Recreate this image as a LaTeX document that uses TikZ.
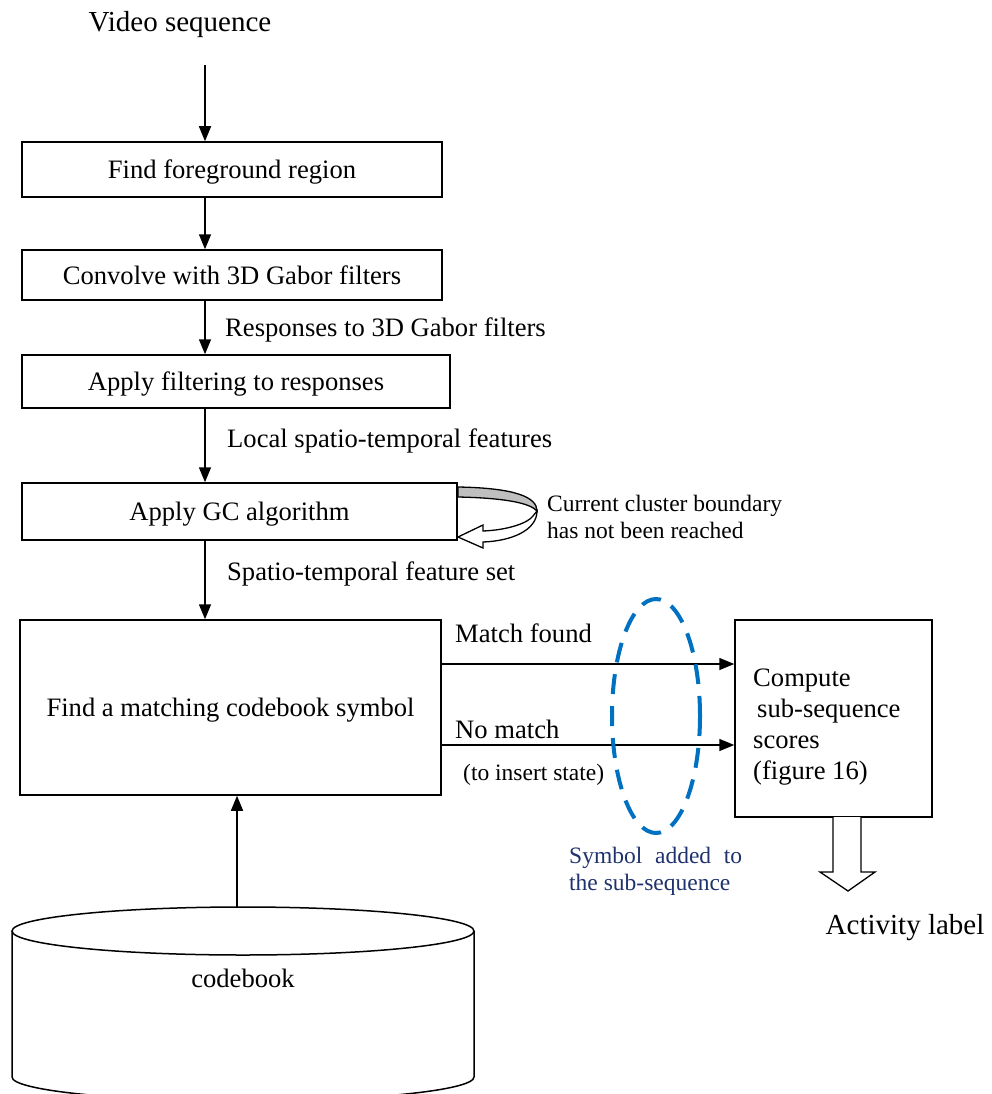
\documentclass[tikz,border=0pt]{standalone}
\usepackage{fontspec}
\setmainfont{Liberation Serif}
\usetikzlibrary{arrows.meta}
\definecolor{ellblue}{RGB}{0,112,192}
\definecolor{navytext}{RGB}{31,50,110}
\begin{document}
\begin{tikzpicture}[x=1pt,y=-1pt,
  box/.style={draw,line width=1.5pt,inner sep=0pt,text depth=0pt,font=\fontsize{26.6}{31}\selectfont},
  arr/.style={line width=1.5pt,-{Triangle[length=15pt,width=12pt]}},
  lbl/.style={anchor=west,inner sep=0pt,font=\fontsize{26.6}{31}\selectfont},
  small/.style={inner sep=0pt,font=\fontsize{23.5}{27}\selectfont}]
\useasboundingbox (0,0) rectangle (992,1094);
% title
\node[inner sep=0pt,font=\fontsize{29}{34}\selectfont] (vs) at (180,25) {Video sequence};
\coordinate (vsa) at (205,65);
\coordinate (ax) at (205,0);
% boxes
\node[box,minimum width=420pt,minimum height=55pt] (b1) at (232,169.5) {Find foreground region};
\node[box,minimum width=420pt,minimum height=50pt] (b2) at (232,275) {Convolve with 3D Gabor filters};
\node[box,minimum width=428pt,minimum height=53pt] (b3) at (236,381.5) {Apply filtering to responses};
\node[box,minimum width=435pt,minimum height=57pt] (b4) at (239.5,511.5) {Apply GC algorithm};
\node[box,minimum width=421pt,minimum height=175pt] (b5) at (230.5,707.5) {Find a matching codebook symbol};
\node[box,minimum width=197pt,minimum height=197pt] (b6) at (833.5,718.5) {};
\node[anchor=north west,inner sep=0pt,align=left,font=\fontsize{26.6}{31}\selectfont] (b6t) at (753,669) {Compute\\\hspace{4pt}sub-sequence\\scores\\(figure 16)};
% vertical arrows
\draw[arr] (vsa) -- (vsa |- b1.north);
\draw[arr] (b1.south -| ax) -- (b2.north -| ax);
\draw[arr] (b2.south -| ax) -- (b3.north -| ax);
\draw[arr] (b3.south -| ax) -- (b4.north -| ax);
\draw[arr] (b4.south -| ax) -- (b5.north -| ax);
% labels
\node[lbl] (l1) at (225,330) {Responses to 3D Gabor filters};
\node[lbl] (l2) at (227,441) {Local spatio-temporal features};
\node[lbl] (l3) at (227,574) {Spatio-temporal feature set};
% loop arrow
\filldraw[fill=black!25,line width=1.3pt] (458,487) .. controls (515,488) and (537,497) .. (537,511)
  .. controls (530,503) and (505,498) .. (458,497) -- cycle;
\filldraw[fill=white,line width=1.3pt] (537,511) .. controls (537,530) and (512,541) .. (483,542)
  -- (483,548) -- (458,537) -- (483,525) -- (483,531)
  .. controls (508,530) and (528,523) .. (533,516) -- cycle;
\node[anchor=north west,inner sep=0pt,align=left,font=\fontsize{23.5}{27}\selectfont] (loopt) at (547,495) {Current cluster boundary\\has not been reached};
% match arrows
\coordinate (m1) at (0,664);
\coordinate (m2) at (0,745);
\draw[arr] (b5.east |- m1) -- (b6.west |- m1);
\draw[arr] (b5.east |- m2) -- (b6.west |- m2);
\node[lbl] (mf) at (455,633) {Match found};
\node[lbl] (nm) at (455,729) {No match};
\node[small,anchor=west] (tis) at (463,775) {(to insert state)};
% dashed ellipse
\draw[ellblue,line width=4pt,dash pattern=on 20pt off 12pt] (656,716) ellipse [x radius=44, y radius=117];
\node[anchor=north west,inner sep=0pt,align=left,text=navytext,font=\fontsize{23.5}{27}\selectfont] (sym) at (569,847) {\makebox[173pt][s]{Symbol added to}\\the sub-sequence};
% hollow down arrow
\draw[line width=1.3pt,fill=white] (833,817) -- (833,872) -- (820,872) -- (848,891) -- (875,872) -- (861,872) -- (861,817);
\node[inner sep=0pt,font=\fontsize{29}{34}\selectfont] (act) at (905,928) {Activity label};
% cylinder
\draw[line width=1.5pt] (12,931) -- (12,1077) arc[start angle=180,end angle=0,x radius=231,y radius=24] -- (474,931);
\draw[line width=1.5pt] (243,931) ellipse [x radius=231, y radius=24];
\node[inner sep=0pt,font=\fontsize{26.6}{31}\selectfont] (cb) at (243,978) {codebook};
\coordinate (cyltop) at (237,907);
\draw[arr] (cyltop) -- (cyltop |- b5.south);
\end{tikzpicture}
\end{document}
